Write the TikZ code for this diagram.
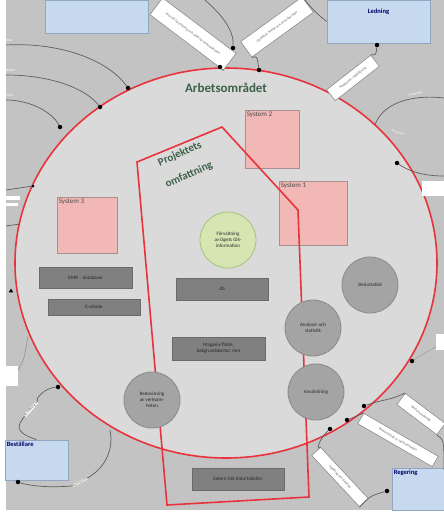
\documentclass[tikz,border=0pt]{standalone}
\usepackage{fontspec}
\setmainfont{Carlito}
\usetikzlibrary{shapes.geometric}
\definecolor{bggray}{HTML}{C3C3C3}
\definecolor{areafill}{HTML}{DADADA}
\definecolor{redline}{HTML}{E8333C}
\definecolor{boxgray}{HTML}{808080}
\definecolor{boxedge}{HTML}{6A6A6A}
\definecolor{pinkfill}{HTML}{F2B8B5}
\definecolor{pinkedge}{HTML}{A89090}
\definecolor{bluefill}{HTML}{C6D9EF}
\definecolor{blueedge}{HTML}{8FA7C2}
\definecolor{greenfill}{HTML}{D5E6B2}
\definecolor{greenedge}{HTML}{A7C27A}
\definecolor{circfill}{HTML}{A4A4A4}
\definecolor{circedge}{HTML}{8A8A8A}
\definecolor{titlegreen}{HTML}{3D6149}
\definecolor{connline}{HTML}{5E5E5E}
\begin{document}
\begin{tikzpicture}[x=1pt,y=-1pt,
  font=\fontsize{5}{6}\selectfont,
  darkbox/.style={draw=boxedge, fill=boxgray, line width=0.8pt, align=center, inner sep=1pt, text=black!85},
  sysbox/.style={draw=pinkedge, fill=pinkfill, line width=0.8pt, inner sep=0pt},
  systext/.style={anchor=north west, font=\fontsize{7}{8}\selectfont, text=black!70, inner sep=2pt},
  bluebox/.style={draw=blueedge, fill=bluefill, line width=0.8pt, inner sep=0pt},
  bluetext/.style={anchor=north west, font=\fontsize{6.5}{8}\selectfont\bfseries, text=blue!40!black, inner sep=2pt},
  graycirc/.style={circle, draw=circedge, fill=circfill, line width=0.8pt, minimum size=56pt, inner sep=0pt, align=center, text=black!85},
  greencirc/.style={circle, draw=greenedge, fill=greenfill, line width=0.8pt, minimum size=56pt, inner sep=0pt, align=center, text=black!85},
  conn/.style={draw=connline, line width=0.7pt},
  lblbox/.style={draw=black!45, fill=white, line width=0.6pt, align=center, inner sep=1pt, font=\fontsize{3.6}{4.3}\selectfont, text=black!60},
  wtext/.style={align=center, font=\fontsize{3.6}{4.3}\selectfont, text=white, inner sep=0pt},
  dotc/.style={circle, fill=black, inner sep=0pt, minimum size=4.5pt},
  scopeline/.style={draw=redline, line width=1.6pt, line join=miter},
  scopetitle/.style={font=\fontsize{11}{12}\selectfont\bfseries, text=titlegreen, rotate=24, inner sep=0pt}
]
\useasboundingbox (0,0) rectangle (444,514);
\fill[white] (0,0) rectangle (444,514);
\fill[bggray] (6,0) rectangle (444,510);

% ---------- outside boxes ----------
\node[bluebox, minimum width=103pt, minimum height=33pt] (tl) at (96.5,16.5) {};
\node[bluebox, minimum width=103pt, minimum height=43pt] (led) at (378.5,21.5) {};
\node[anchor=north, font=\fontsize{6.5}{8}\selectfont\bfseries, text=blue!40!black] at (led.north) [yshift=-6pt] {Ledning};
\node[bluebox, minimum width=63pt, minimum height=40pt] (bes) at (36.5,460) {};
\node[bluetext] at (bes.north west) {Beställare};
\node[bluebox, minimum width=52pt, minimum height=42pt] (reg) at (418,489) {};
\node[bluetext] at (reg.north west) {Regering};

% ---------- big area ----------
\draw[redline, line width=1.6pt, fill=areafill] (226,263) ellipse [x radius=211, y radius=195];
\node[font=\fontsize{13}{15}\selectfont\bfseries, text=titlegreen] (title) at (226,88) {Arbetsområdet};

% ---------- connector dots & ends ----------
\coordinate (e1) at (6,45);  \node[dotc] (d1) at (128,88) {};
\coordinate (e2) at (6,75);  \node[dotc] (d2) at (100,107) {};
\coordinate (e3) at (6,100); \node[dotc] (d3) at (60,127) {};
\draw[conn] (e1) .. controls (60,42) and (108,60) .. (d1);
\draw[conn] (e2) .. controls (50,75) and (85,88) .. (d2);
\draw[conn] (e3) .. controls (30,100) and (52,112) .. (d3);
\node[wtext, anchor=west] at (6,40) {Krav};
\node[wtext, anchor=west] at (6,70) {Behov};
\node[wtext, anchor=west] at (6,95) {Stöd};

\coordinate (e4) at (6,190); \node[dotc, minimum size=3pt] (d4) at (33,186) {};
\draw[conn] (e4) -- (d4);
\fill[white] (6,196) rectangle (20,200);
\fill[white] (6,203) rectangle (18,206);
\coordinate (e5) at (6,226); \coordinate (d5) at (20,224);
\draw[conn] (e5) -- (d5);
\node[dotc, regular polygon, regular polygon sides=3, minimum size=5pt] at (11,291) {};

% top labels
\node[lblbox, rotate=-37, minimum width=92pt, minimum height=21pt] (L1) at (193,34) {Krav på förvaltning och stöd för verksamheten};
\coordinate (e6) at (205,0); \node[dotc] (d6) at (233,48) {};
\draw[conn] (e6) .. controls (222,15) and (234,30) .. (d6);
\node[dotc] (d7) at (220,67) {};
\draw[conn] (L1.south east) -- (d7);
\node[lblbox, rotate=36, minimum width=76pt, minimum height=19pt] (L2) at (277,27) {Uppdrag, beslut och prioriteringar};
\node[dotc] (d8) at (259,70) {};
\draw[conn] (L2.south west) .. controls (257,56) .. (d8);
\draw[conn] (L2.north east) .. controls (314,12) and (320,16) .. (led.west);
\node[dotc] (d9) at (377,45) {};
\node[lblbox, rotate=38, minimum width=56pt, minimum height=14pt] (L3) at (353,78) {Rapporter, uppföljning};
\draw[conn] (d9) .. controls (376,55) .. (L3.north east);

% right upper
\coordinate (e10) at (444,98); \coordinate (c10) at (375,125);
\draw[conn] (e10) .. controls (410,94) and (382,104) .. (c10);
\node[wtext, rotate=12] at (415,94) {Underlag};
\node[wtext, rotate=-18] at (398,133) {Analyser};
\node[dotc] (d11) at (397,163) {};
\coordinate (e11) at (444,176);
\draw[conn] (d11) .. controls (410,172) and (425,176) .. (e11);
\fill[white] (422,181) rectangle (444,196);

% right lower
\node[dotc] (d12) at (412,361) {};
\coordinate (e12) at (440,344);
\draw[conn, draw=black!35] (d12) -- (e12);
\fill[white] (436,334) rectangle (444,350);
\node[dotc] (d13) at (364,406) {};
\node[lblbox, rotate=-37, minimum width=50pt, minimum height=14pt] (L5) at (421,414) {Beslutsunderlag};
\draw[conn] (d13) .. controls (380,400) and (392,400) .. (L5.north west);
\coordinate (e13) at (444,470);
\draw[conn] (L5.south east) .. controls (444,440) .. (e13);
\node[dotc] (d14) at (347,420) {};
\node[lblbox, rotate=-30, minimum width=86pt, minimum height=12pt] (L6) at (398,440) {Redovisning av verksamheten};
\draw[conn] (d14) .. controls (352,418) .. (L6.north west);
\node[dotc] (d15) at (330,429) {};
\node[dotc] (d16) at (387,491) {};
\node[lblbox, rotate=-47, minimum width=70pt, minimum height=12pt] (L7) at (340,477) {Uppdrag och direktiv};
\draw[conn] (d15) .. controls (318,440) and (316,452) .. (L7.north west);
\draw[conn] (L7.south east) .. controls (370,496) .. (d16);

% bottom left
\node[dotc] (d17) at (58,387) {};
\node[wtext, rotate=48, text=black!60, fill=white] (L8) at (31,409) {Beställningar};
\draw[conn] (d17) .. controls (45,388) and (35,398) .. (L8.east);
\draw[conn] (L8.west) .. controls (18,425) and (13,432) .. (bes.north);
\coordinate (c18) at (110,430);
\node[dotc] (d18) at (18,482) {};
\node[wtext, rotate=28, text=black!60, fill=white] (L9) at (80,482) {Leveranser};
\draw[conn] (c18) .. controls (114,450) and (105,468) .. (L9.east);
\draw[conn] (L9.west) .. controls (50,488) and (30,486) .. (d18);
\fill[white] (6,366) rectangle (18,386);
\coordinate (e19) at (18,370); \coordinate (c19) at (28,336);
\draw[conn, draw=black!40] (e19) .. controls (24,360) .. (c19);

% ---------- inside ----------
\node[sysbox, minimum width=54pt, minimum height=58pt] (s2) at (272,139) {};
\node[systext] at (s2.north west) {System 2};
\node[sysbox, minimum width=68pt, minimum height=64pt] (s1) at (313,213) {};
\node[systext] at (s1.north west) {System 1};
\node[sysbox, minimum width=60pt, minimum height=56pt] (s3) at (87,225) {};
\node[systext] at (s3.north west) {System 3};

\node[darkbox, minimum width=93pt, minimum height=21pt] (dmr) at (85.5,277.5) {DMR -- databaser};
\node[darkbox, minimum width=92pt, minimum height=16pt] (earb) at (94,307) {E-arbete};
\node[darkbox, minimum width=92pt, minimum height=22pt] (db) at (222,289) {db};
\node[darkbox, minimum width=93pt, minimum height=23pt] (mag) at (218.5,348.5) {Magasin/flöde,\\bakgrundskartor, mm};
\node[darkbox, minimum width=92pt, minimum height=22pt] (ext) at (238,479) {Extern GIS-data/tabeller};

% project scope
\draw[scopeline] (137,162) -- (222,127) -- (298,210) -- (309,497) -- (167,505) -- cycle;
\node[scopetitle] (proj1) at (180,154) {Projektets};
\node[scopetitle] (proj2) at (189,175) {omfattning};

\node[greencirc] (forv) at (228,240) {Förvaltning\\av lägets GIS-\\information};
\node[graycirc] (besl) at (370,285) {Beslutsstöd};
\node[graycirc] (anal) at (313,328) {Analyser och\\statistik};
\node[graycirc] (anv) at (316,392) {Användning};
\node[graycirc] (redo) at (152,400) {Redovisning\\av verksam-\\heten};
\end{tikzpicture}
\end{document}
